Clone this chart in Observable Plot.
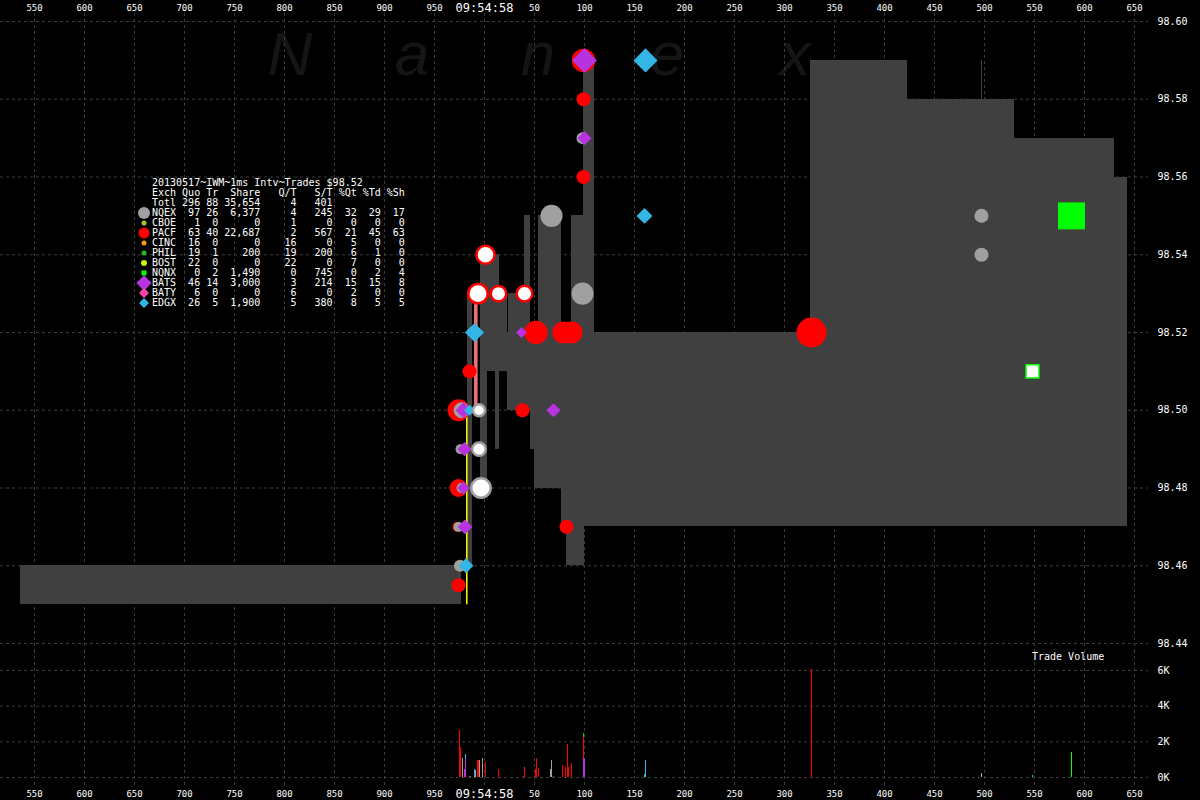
<!DOCTYPE html>
<html><head><meta charset="utf-8">
<script src="https://cdn.jsdelivr.net/npm/d3@7"></script>
<script src="https://cdn.jsdelivr.net/npm/@observablehq/plot@0.6"></script>
<style>
html,body{margin:0;padding:0;background:#000;}
#wrap{position:relative;width:1200px;height:800px;background:#000;overflow:hidden;}
#wm{position:absolute;left:0;top:0;width:1200px;height:100px;font:italic 62px "Liberation Sans",Arial,sans-serif;color:#151515;}
#wm span{position:absolute;top:23px;line-height:62px;transform:translateX(-50%);}
#top,#bot{position:absolute;left:0;}
#top{top:0;} #bot{top:650px;}
#legend{position:absolute;left:152px;top:178px;font:10px/10px "DejaVu Sans Mono",monospace;color:#fff;white-space:pre;}
#legend .row{position:relative;height:10px;}
#legend .mk{position:absolute;left:-8px;top:5px;}
#tv{position:absolute;left:1032px;top:652px;font:10px/10px "DejaVu Sans Mono",monospace;color:#fff;white-space:pre;}
</style></head>
<body><div id="wrap"><div id="wm"></div><div id="top"></div><div id="bot"></div><div id="legend"></div><div id="tv">Trade Volume</div></div>
<script>
// ---------- data ----------
const TITLE = "20130517~IWM~1ms Intv~Trades $98.52";
const WATERMARK = ["N","a","n","e","x"];
// time ticks in ms relative to 09:54:58.000
const TIME_TICKS = [-450,-400,-350,-300,-250,-200,-150,-100,-50,0,50,100,150,200,250,300,350,400,450,500,550,600,650];
const PRICE_TICKS = [98.44,98.46,98.48,98.50,98.52,98.54,98.56,98.58,98.60];
const VOL_TICKS = [0,2000,4000,6000];

// legend table
const EXCH      = ["NQEX","CBOE","PACF","CINC","PHIL","BOST","NQNX","BATS","BATY","EDGX"];
const EX_QUO    = [97,1,63,16,19,22,0,46,6,26];
const EX_TR     = [26,0,40,0,1,0,2,14,0,5];
const EX_SHARE  = [6377,0,22687,0,200,0,1490,3000,0,1900];
const EX_QT     = [4,1,2,16,19,22,0,3,6,5];
const EX_ST     = [245,0,567,0,200,0,745,214,0,380];
const EX_PQT    = [32,0,21,5,6,7,0,15,2,8];
const EX_PTD    = [29,0,45,0,1,0,2,15,0,5];
const EX_PSH    = [17,0,63,0,0,0,4,8,0,5];
const TOTL_ROW  = [296,88,35654,4,401];

// NBBO (bid/ask) segments, ms
const nbboT1  = [-464,-17,-4,3,11,15,23,24,40,46,50,54,77,82,87,99,100,110,326,423,530,630,497];
const nbboT2  = [-23,-12,3,11,15,23,24,40,46,50,54,77,82,87,99,100,110,326,423,530,630,643,498];
const nbboBid = [98.45,98.46,98.48,98.51,98.49,98.51,98.50,98.50,98.50,98.49,98.48,98.48,98.47,98.46,98.46,98.46,98.47,98.47,98.47,98.47,98.47,98.47,98.58];
const nbboAsk = [98.46,98.53,98.54,98.54,98.54,98.53,98.52,98.53,98.55,98.52,98.52,98.55,98.52,98.52,98.55,98.59,98.59,98.52,98.59,98.58,98.57,98.56,98.59];

// quotes by exchange (time ms, price, size in shares)
const quoteEx = ["PACF","PACF","PACF","PACF","PACF","PACF","PACF","PACF","PACF","PACF","PACF","PACF","PACF","PACF",
                 "NQEX","NQEX","NQEX","NQEX","NQEX","NQEX","NQEX","NQEX","NQEX","NQEX",
                 "BATS","BATS","BATS","BATS","BATS","BATS","BATS","BATS",
                 "EDGX","EDGX","EDGX","EDGX","EDGX",
                 "NQNX"];
const quoteT  = [99,99,99,51.5,79,87,327,-15,-26,38,-26,-27,82,-26,
                 98,67,497,497,98,-23,-24,-23,-26,-24.5,
                 100,100,37,69,-21,-20,-21,-19.5,
                 161,160,-10,-15,-18.5,
                 587];
const quotePx = [98.59,98.58,98.56,98.52,98.52,98.52,98.52,98.51,98.50,98.50,98.48,98.47,98.47,98.455,
                 98.57,98.55,98.55,98.54,98.53,98.50,98.49,98.48,98.47,98.46,
                 98.59,98.57,98.52,98.50,98.50,98.49,98.48,98.47,
                 98.59,98.55,98.52,98.50,98.46,
                 98.55];
const quoteSz = [6100,2200,2200,6100,5400,5400,10000,2200,5400,2200,3600,1100,2200,2200,
                 1600,5400,2200,2200,5400,2800,1100,1100,1100,1600,
                 5600,1800,1100,1800,2300,1800,1500,2000,
                 5200,2300,3300,1100,2000,
                 10300];

// trades (time ms, price, size)
const tradeEx = ["PACF","PACF","PACF","PACF","NQEX","NQEX","NQEX","NQNX"];
const tradeT  = [1,-6.5,14,40,-5.5,-5.5,-3.5,548];
const tradePx = [98.54,98.53,98.53,98.53,98.50,98.49,98.48,98.51];
const tradeSz = [3600,4200,2650,2700,1600,2000,4200,2400];

// fast sweeps within one ms
const sweepT  = [-17.7,-8.7];
const sweepLo = [98.45,98.50];
const sweepHi = [98.50,98.53];

// trade volume bars (time ms, shares, exchange)
const volT  = [-25,-24,-22,-20,-19,-19,-15,-14,-10,-9,-7,-6,-5,-2,1,14,39,40,40,51,52,54,66,67,69,78,81,83,84,87,99,99,99,100,160,161,327,497,548,587];
const volSh = [2650,1680,1085,470,1000,300,75,60,470,400,970,970,970,1085,860,470,75,470,110,470,1085,520,470,970,75,690,580,1870,580,800,1070,1180,200,1070,190,960,6060,245,95,1390];
const volEx = ["PACF","PACF","NQEX","BATS","BATS","EDGX","PACF","EDGX","EDGX","NQEX","PACF","PACF","NQEX","NQEX","PACF","PACF","PACF","PACF","BATS","PACF","PACF","PACF","NQEX","NQEX","BATS","PACF","PACF","PACF","PACF","PACF","BATS","PACF","PHIL","BATS","EDGX","EDGX","PACF","NQEX","NQNX","NQNX"];

// ---------- styles ----------
const COLOR = {NQEX:"#a0a0a0",CBOE:"#99cc33",PACF:"#ff0000",CINC:"#ff9900",PHIL:"#22bb22",BOST:"#ccee00",NQNX:"#00ff00",BATS:"#b833e0",BATY:"#ff44aa",EDGX:"#33b5e5"};
const SYMBOL = {NQEX:"circle",PACF:"circle",BATS:"diamond2",BATY:"diamond2",EDGX:"diamond2",NQNX:"square"};

// ---------- build tables ----------
const nbbo = nbboT1.map((t1,i)=>({t1, t2:nbboT2[i], bid:nbboBid[i], ask:nbboAsk[i]}));
const quotes = quoteT.map((t,i)=>({t, px:quotePx[i], sz:quoteSz[i], ex:quoteEx[i]}));
const trades = tradeT.map((t,i)=>({t, px:tradePx[i], sz:tradeSz[i], ex:tradeEx[i]}));
const sweeps = sweepT.map((t,i)=>({t, lo:sweepLo[i], hi:sweepHi[i]}));
const vol = volT.map((t,i)=>({t, sh:volSh[i], ex:volEx[i]}));

const X = {domain:[-484,716], range:[0,1200], label:null};
const fmtTime = t => t === 0 ? "09:54:58" : String((t + 1000) % 1000);
const gridStyle = {stroke:"#3c3c3c", strokeOpacity:1, strokeDasharray:"3,3"};
const svgStyle = {background:"transparent", color:"#fff", fontFamily:"'DejaVu Sans Mono', monospace", fontSize:"9px", overflow:"visible"};
const nonZero = TIME_TICKS.filter(t=>t!==0);

const topPlot = Plot.plot({
  width:1200, height:650, marginTop:13, marginBottom:0, marginLeft:0, marginRight:52,
  style:svgStyle,
  x:X, y:{domain:[98.44,98.60], range:[643,21], label:null},
  r:{type:"sqrt", domain:[0,10000], range:[0,15]},
  color:{type:"identity"},
  marks:[
    Plot.gridX(TIME_TICKS, gridStyle),
    Plot.gridY(PRICE_TICKS, gridStyle),
    Plot.rect(nbbo, {x1:"t1", x2:"t2", y1:"bid", y2:"ask", fill:"#404040", shapeRendering:"crispEdges"}),
    Plot.ruleX(sweeps.slice(0,1), {x:"t", y1:"lo", y2:"hi", stroke:"#ffff00", strokeWidth:1.5}),
    Plot.ruleX(sweeps.slice(1), {x:"t", y1:"lo", y2:"hi", stroke:"#ff7070", strokeWidth:3.5}),
    Plot.ruleX(sweeps.slice(1), {x:"t", y1:"lo", y2:"hi", stroke:"#c08080", strokeWidth:1}),
    Plot.dot(quotes.filter(d=>SYMBOL[d.ex]==="circle"), {x:"t", y:"px", r:"sz", fill:d=>COLOR[d.ex], symbol:"circle", sort:null}),
    Plot.dot(quotes.filter(d=>SYMBOL[d.ex]==="diamond2"), {x:"t", y:"px", r:"sz", fill:d=>COLOR[d.ex], symbol:"diamond2", sort:null}),
    Plot.dot(quotes.filter(d=>SYMBOL[d.ex]==="square"), {x:"t", y:"px", r:"sz", fill:d=>COLOR[d.ex], symbol:"square", sort:null}),
    Plot.dot(trades.filter(d=>SYMBOL[d.ex]==="circle"), {x:"t", y:"px", r:"sz", fill:"#ffffff", stroke:d=>COLOR[d.ex], strokeWidth:2.5, symbol:"circle", sort:null}),
    Plot.dot(trades.filter(d=>SYMBOL[d.ex]==="square"), {x:"t", y:"px", r:"sz", fill:"#ffffff", stroke:d=>COLOR[d.ex], strokeWidth:1.5, symbol:"square", sort:null}),
    Plot.axisX(nonZero, {anchor:"top", tickSize:0, tickPadding:3, tickFormat:fmtTime, fontSize:9, label:null}),
    Plot.axisX([0], {anchor:"top", tickSize:0, tickPadding:2, tickFormat:fmtTime, fontSize:12, label:null}),
    Plot.axisY(PRICE_TICKS, {anchor:"right", tickSize:0, tickPadding:9, tickFormat:d3.format(".2f"), fontSize:10, label:null})
  ]
});
document.getElementById("top").append(topPlot);

const botPlot = Plot.plot({
  width:1200, height:150, marginTop:0, marginBottom:13, marginLeft:0, marginRight:52,
  style:svgStyle,
  x:X, y:{domain:[0,6000], range:[127,20], label:null},
  color:{type:"identity"},
  marks:[
    Plot.gridX(TIME_TICKS, gridStyle),
    Plot.gridY(VOL_TICKS, gridStyle),
    Plot.rectY(vol, {x1:"t", x2:d=>d.t+1, y:"sh", fill:d=>COLOR[d.ex], shapeRendering:"crispEdges"}),
    Plot.axisX(nonZero, {anchor:"bottom", tickSize:0, tickPadding:3, tickFormat:fmtTime, fontSize:9, label:null}),
    Plot.axisX([0], {anchor:"bottom", tickSize:0, tickPadding:2, tickFormat:fmtTime, fontSize:12, label:null}),
    Plot.axisY(VOL_TICKS, {anchor:"right", tickSize:0, tickPadding:9, tickFormat:d=>d/1000+"K", fontSize:10, label:null})
  ]
});
document.getElementById("bot").append(botPlot);

// ---------- watermark ----------
const wm = document.getElementById("wm");
const wmX = [290,412,538,667,795];
WATERMARK.forEach((ch,i)=>{const s=document.createElement("span"); s.textContent=ch; s.style.left=wmX[i]+"px"; wm.append(s);});

// ---------- legend ----------
const fmtN = d3.format(",");
const lg = document.getElementById("legend");
function addRow(text, ex){
  const r = document.createElement("div"); r.className="row"; r.textContent=text;
  if (ex){
    const m = document.createElement("div"); m.className="mk";
    const big = {NQEX:12,PACF:11,BATS:11,BATY:7,EDGX:7,NQNX:5,BOST:6};
    const s = big[ex] || 5;
    m.style.width=s+"px"; m.style.height=s+"px"; m.style.background=COLOR[ex];
    const sym = SYMBOL[ex] || "circle";
    let tf = "translate(-50%,-50%)";
    if (sym==="circle") m.style.borderRadius="50%";
    if (sym==="diamond2") tf += " rotate(45deg)";
    m.style.transform = tf;
    r.append(m);
  }
  lg.append(r);
}
addRow(TITLE);
addRow("Exch Quo Tr  Share   Q/T   S/T %Qt %Td %Sh");
addRow("Totl" + String(TOTL_ROW[0]).padStart(4) + String(TOTL_ROW[1]).padStart(3) + fmtN(TOTL_ROW[2]).padStart(7) + String(TOTL_ROW[3]).padStart(6) + String(TOTL_ROW[4]).padStart(6));
EXCH.forEach((ex,i)=>{
  const line = ex + String(EX_QUO[i]).padStart(4) + String(EX_TR[i]).padStart(3) +
    fmtN(EX_SHARE[i]).padStart(7) + String(EX_QT[i]).padStart(6) + String(EX_ST[i]).padStart(6) +
    String(EX_PQT[i]).padStart(4) + String(EX_PTD[i]).padStart(4) + String(EX_PSH[i]).padStart(4);
  addRow(line, ex);
});
</script></body></html>
